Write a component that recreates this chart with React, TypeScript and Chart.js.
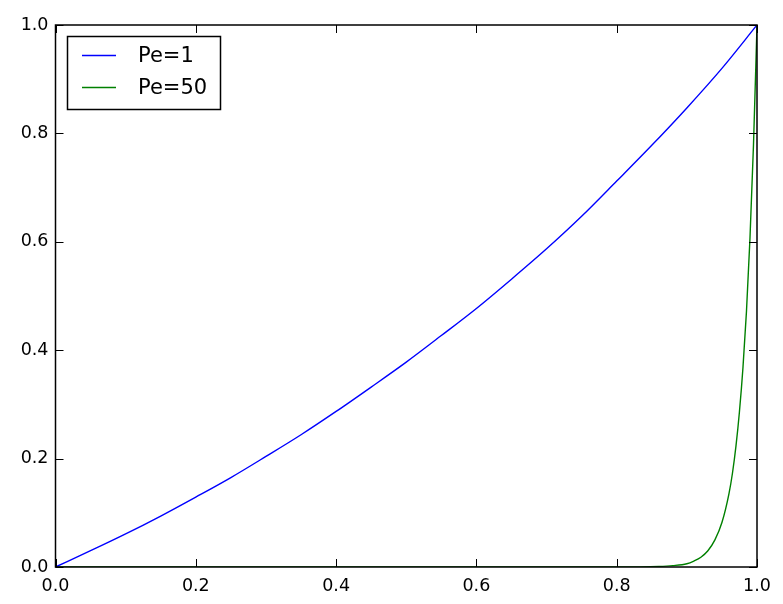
import React, { useEffect, useRef } from "react";
import { Chart, registerables } from "chart.js";

Chart.register(...registerables);

const pe1X = [0, 0.05, 0.1, 0.15, 0.2, 0.25, 0.3, 0.35, 0.4, 0.45, 0.5, 0.55, 0.6, 0.65, 0.7, 0.75, 0.8, 0.85, 0.9, 0.95, 1.0];
const pe1Y = [0, 0.03, 0.061, 0.094, 0.129, 0.165, 0.204, 0.244, 0.287, 0.332, 0.378, 0.427, 0.477, 0.531, 0.587, 0.647, 0.712, 0.778, 0.847, 0.92, 1.0];
const pe50X = [0, 0.5, 0.8, 0.86, 0.88, 0.9, 0.91, 0.92, 0.93, 0.94, 0.95, 0.96, 0.965, 0.97, 0.975, 0.98, 0.985, 0.99, 0.995, 1.0];
const pe50Y = [0, 0, 0, 0.001, 0.0025, 0.006, 0.011, 0.018, 0.03, 0.05, 0.082, 0.135, 0.173, 0.223, 0.287, 0.368, 0.472, 0.607, 0.779, 1.0];
const seriesLabels = ["Pe=1", "Pe=50"];
const seriesColors = ["#0000ff", "#008000"];
const tickValues = [0, 0.2, 0.4, 0.6, 0.8, 1.0];

const framePlugin = {
  id: "frame",
  afterDatasetsDraw(chart: any) {
    const { ctx, chartArea, scales } = chart;
    const { left, right, top, bottom } = chartArea;
    ctx.save();
    ctx.strokeStyle = "#000";
    ctx.lineWidth = 1;
    const L = 8;
    ctx.beginPath();
    for (const v of tickValues) {
      const x = Math.round(scales.x.getPixelForValue(v)) + 0.5;
      ctx.moveTo(x, bottom);
      ctx.lineTo(x, bottom - L);
      ctx.moveTo(x, top);
      ctx.lineTo(x, top + L);
      const y = Math.round(scales.y.getPixelForValue(v)) + 0.5;
      ctx.moveTo(left, y);
      ctx.lineTo(left + L, y);
      ctx.moveTo(right, y);
      ctx.lineTo(right - L, y);
    }
    ctx.stroke();
    ctx.lineWidth = 1.5;
    ctx.strokeRect(left, top, right - left, bottom - top);

    // legend
    const bx = 67.5, by = 36.5, bw = 153, bh = 73;
    ctx.fillStyle = "#fff";
    ctx.fillRect(bx, by, bw, bh);
    ctx.lineWidth = 1.5;
    ctx.strokeStyle = "#000";
    ctx.strokeRect(bx, by, bw, bh);
    ctx.font = "21px 'DejaVu Sans'";
    ctx.textBaseline = "middle";
    seriesLabels.forEach((label, i) => {
      const cy = 55.5 + i * 32;
      ctx.strokeStyle = seriesColors[i];
      ctx.lineWidth = 1.5;
      ctx.beginPath();
      ctx.moveTo(82, cy);
      ctx.lineTo(116, cy);
      ctx.stroke();
      ctx.fillStyle = "#000";
      ctx.fillText(label, 138, cy + 1);
    });
    ctx.restore();
  },
};

export default function App() {
  const ref = useRef<HTMLCanvasElement>(null);
  useEffect(() => {
    document.body.style.margin = "0";
    const toPts = (xs: number[], ys: number[]) => xs.map((x, i) => ({ x, y: ys[i] }));
    const chart = new Chart(ref.current!, {
      type: "line",
      data: {
        datasets: [
          { label: seriesLabels[0], data: toPts(pe1X, pe1Y), borderColor: seriesColors[0], borderWidth: 1.4, pointRadius: 0, cubicInterpolationMode: "monotone", fill: false },
          { label: seriesLabels[1], data: toPts(pe50X, pe50Y), borderColor: seriesColors[1], borderWidth: 1.4, pointRadius: 0, cubicInterpolationMode: "monotone", fill: false },
        ],
      },
      options: {
        animation: false,
        responsive: false,
        layout: { padding: { left: 0, top: 25, right: 26, bottom: 0 } },
        plugins: { legend: { display: false }, tooltip: { enabled: false } },
        scales: {
          x: {
            type: "linear",
            min: 0,
            max: 1,
            grid: { display: false, drawTicks: false },
            border: { display: false },
            afterBuildTicks: (s: any) => { s.ticks = tickValues.map((v) => ({ value: v })); },
            afterFit: (s: any) => { s.height = 37; },
            ticks: { color: "#000", font: { family: "DejaVu Sans", size: 17.5 }, padding: 9, maxRotation: 0, callback: (v: any) => Number(v).toFixed(1) },
          },
          y: {
            type: "linear",
            min: 0,
            max: 1,
            grid: { display: false, drawTicks: false },
            border: { display: false },
            afterBuildTicks: (s: any) => { s.ticks = tickValues.map((v) => ({ value: v })); },
            afterFit: (s: any) => { s.width = 55.5; },
            ticks: { color: "#000", font: { family: "DejaVu Sans", size: 17.5 }, padding: 7, callback: (v: any) => Number(v).toFixed(1) },
          },
        },
      },
      plugins: [framePlugin],
    });
    return () => chart.destroy();
  }, []);
  return (
    <div style={{ width: 783, height: 604, background: "#fff" }}>
      <canvas ref={ref} width={783} height={604} />
    </div>
  );
}
